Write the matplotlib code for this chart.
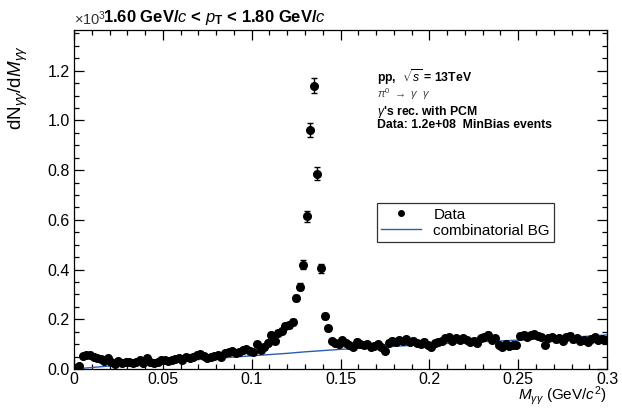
import matplotlib.pyplot as plt
from matplotlib.ticker import MultipleLocator, FixedLocator
from matplotlib.lines import Line2D

plt.rcParams['font.family'] = ['Liberation Sans', 'DejaVu Sans']
plt.rcParams['mathtext.fontset'] = 'custom'
plt.rcParams['mathtext.rm'] = 'Liberation Sans'
plt.rcParams['mathtext.it'] = 'Liberation Sans:italic'
plt.rcParams['mathtext.bf'] = 'Liberation Sans:bold'

# invariant mass bin centres (GeV/c^2), 2 MeV bins
mass = [0.001 + 0.002 * i for i in range(150)]

# dN/dM, units of 10^3
counts = [
    0.004, 0.012, 0.052, 0.058, 0.055, 0.050, 0.046, 0.039, 0.031, 0.045,
    0.027, 0.022, 0.033, 0.025, 0.030, 0.027, 0.024, 0.030, 0.037, 0.024,
    0.043, 0.030, 0.025, 0.029, 0.036, 0.038, 0.033, 0.038, 0.040, 0.044,
    0.038, 0.050, 0.046, 0.048, 0.055, 0.062, 0.052, 0.045, 0.050, 0.054,
    0.056, 0.047, 0.063, 0.070, 0.074, 0.063, 0.070, 0.076, 0.080, 0.072,
    0.067, 0.100, 0.076, 0.090, 0.106, 0.137, 0.112, 0.146, 0.153, 0.173,
    0.177, 0.190, 0.285, 0.330, 0.420, 0.615, 0.960, 1.140, 0.785, 0.405,
    0.215, 0.163, 0.113, 0.106, 0.099, 0.116, 0.104, 0.096, 0.088, 0.110,
    0.100, 0.096, 0.100, 0.087, 0.092, 0.100, 0.090, 0.074, 0.106, 0.114,
    0.110, 0.116, 0.114, 0.120, 0.110, 0.114, 0.106, 0.100, 0.110, 0.096,
    0.087, 0.103, 0.110, 0.114, 0.123, 0.127, 0.114, 0.123, 0.116, 0.123,
    0.116, 0.110, 0.114, 0.106, 0.123, 0.130, 0.137, 0.116, 0.123, 0.096,
    0.087, 0.100, 0.092, 0.096, 0.096, 0.133, 0.137, 0.130, 0.137, 0.140,
    0.133, 0.130, 0.096, 0.123, 0.127, 0.120, 0.123, 0.114, 0.127, 0.133,
    0.120, 0.123, 0.114, 0.116, 0.110, 0.120, 0.127, 0.116, 0.120, 0.118,
]

errors = [
    0.003, 0.004, 0.007, 0.007, 0.007, 0.007, 0.007, 0.006, 0.006, 0.007,
    0.006, 0.005, 0.006, 0.005, 0.006, 0.006, 0.005, 0.006, 0.006, 0.005,
    0.007, 0.006, 0.005, 0.006, 0.006, 0.006, 0.006, 0.006, 0.006, 0.007,
    0.006, 0.007, 0.007, 0.007, 0.007, 0.008, 0.007, 0.007, 0.007, 0.007,
    0.007, 0.007, 0.008, 0.008, 0.008, 0.008, 0.008, 0.008, 0.008, 0.008,
    0.008, 0.009, 0.008, 0.009, 0.009, 0.010, 0.009, 0.010, 0.010, 0.011,
    0.011, 0.011, 0.013, 0.014, 0.017, 0.022, 0.028, 0.031, 0.026, 0.017,
    0.012, 0.010, 0.009, 0.009, 0.009, 0.009, 0.009, 0.009, 0.008, 0.009,
    0.009, 0.009, 0.009, 0.008, 0.009, 0.009, 0.008, 0.008, 0.009, 0.009,
    0.009, 0.009, 0.009, 0.009, 0.009, 0.009, 0.009, 0.009, 0.009, 0.009,
    0.008, 0.009, 0.009, 0.009, 0.010, 0.010, 0.009, 0.010, 0.009, 0.010,
    0.009, 0.009, 0.009, 0.009, 0.010, 0.010, 0.010, 0.009, 0.010, 0.009,
    0.008, 0.009, 0.009, 0.009, 0.009, 0.010, 0.010, 0.010, 0.010, 0.010,
    0.010, 0.010, 0.009, 0.010, 0.010, 0.010, 0.010, 0.009, 0.010, 0.010,
    0.010, 0.010, 0.009, 0.009, 0.009, 0.010, 0.010, 0.009, 0.010, 0.010,
]

# combinatorial background
bg_mass = [0.00, 0.01, 0.02, 0.03, 0.04, 0.05, 0.06, 0.07, 0.08, 0.09,
           0.10, 0.11, 0.12, 0.13, 0.14, 0.15, 0.16, 0.17, 0.18, 0.19,
           0.20, 0.21, 0.22, 0.23, 0.24, 0.25, 0.26, 0.27, 0.28, 0.29, 0.30]
bg_counts = [0.000, 0.006, 0.012, 0.018, 0.023, 0.028, 0.033, 0.038, 0.043, 0.048,
             0.053, 0.058, 0.063, 0.069, 0.074, 0.079, 0.083, 0.087, 0.091, 0.095,
             0.099, 0.103, 0.106, 0.110, 0.113, 0.116, 0.120, 0.124, 0.128, 0.132, 0.137]

xtick_vals = [0, 0.05, 0.1, 0.15, 0.2, 0.25, 0.3]
xtick_labels = ['0', '0.05', '0.1', '0.15', '0.2', '0.25', '0.3']
ytick_vals = [0.0, 0.2, 0.4, 0.6, 0.8, 1.0, 1.2]
ytick_labels = ['0.0', '0.2', '0.4', '0.6', '0.8', '1.0', '1.2']

bg_color = '#2a5db0'

fig = plt.figure(figsize=(6.22, 4.08), dpi=100)
ax = fig.add_axes([0.119, 0.0956, 0.857, 0.8305])

ax.plot(bg_mass, bg_counts, color=bg_color, lw=1.0, zorder=2)
ax.errorbar(mass, counts, yerr=errors, fmt='o', color='black', ms=5.5,
            elinewidth=1.0, capsize=2, capthick=1.0, zorder=3)

ax.set_xlim(0, 0.3)
ax.set_ylim(0, 1.363)

ax.xaxis.set_major_locator(FixedLocator(xtick_vals))
ax.set_xticklabels(xtick_labels)
ax.xaxis.set_minor_locator(MultipleLocator(0.01))
ax.yaxis.set_major_locator(FixedLocator(ytick_vals))
ax.set_yticklabels(ytick_labels)
ax.yaxis.set_minor_locator(MultipleLocator(0.05))

ax.tick_params(which='both', direction='in', top=True, right=True, labelsize=11.5, width=0.9)
ax.tick_params(which='major', length=7)
ax.tick_params(which='minor', length=3.5)
ax.tick_params(axis='x', pad=2)
ax.tick_params(axis='y', pad=3)
for s in ax.spines.values():
    s.set_linewidth(0.9)

ax.set_xlabel(r'$M_{\gamma\gamma}$ (GeV/$c^{2}$)', fontsize=11, ha='right', va='bottom')
ax.xaxis.set_label_coords(1.0, -0.113)
ax.set_ylabel(r'dN$_{\gamma\gamma}$/d$M_{\gamma\gamma}$', fontsize=13.5, ha='right', va='center')
ax.yaxis.set_label_coords(-0.105, 0.956)

fig.text(0.119, 0.978, r'$\times$10$^{3}$', fontsize=10.5, ha='left', va='top', color='#333333')
fig.text(0.166, 0.980, r'1.60 GeV/$\mathbf{\it{c}}$ < $\mathbf{\it{p}}_{\mathbf{T}}$ < 1.80 GeV/$\mathbf{\it{c}}$',
         fontsize=12, fontweight='bold', ha='left', va='top')

tx = 0.568
ax.text(tx, 0.861, r'pp,  $\sqrt{s}$ = 13TeV', transform=ax.transAxes, fontsize=8.8, fontweight='bold', va='center')
ax.text(tx, 0.812, r'$\pi^{0}$ $\rightarrow$ $\gamma$  $\gamma$', transform=ax.transAxes, fontsize=8, color='#444444', va='center')
ax.text(tx, 0.758, r"$\gamma$'s rec. with PCM", transform=ax.transAxes, fontsize=8.8, fontweight='bold', va='center')
ax.text(tx, 0.719, 'Data: 1.2e+08  MinBias events', transform=ax.transAxes, fontsize=8.8, fontweight='bold', va='center')

handles = [
    Line2D([], [], marker='o', color='black', ms=4, lw=0),
    Line2D([], [], color=bg_color, lw=1.0),
]
leg = ax.legend(handles, ['Data', 'combinatorial BG'], loc='upper left',
                bbox_to_anchor=(0.568, 0.49), fontsize=11, frameon=True,
                fancybox=False, edgecolor='black', borderpad=0.3,
                handlelength=2.6, labelspacing=0.15, borderaxespad=0)
leg.get_frame().set_linewidth(0.9)

fig.savefig('out.png', dpi=100)
